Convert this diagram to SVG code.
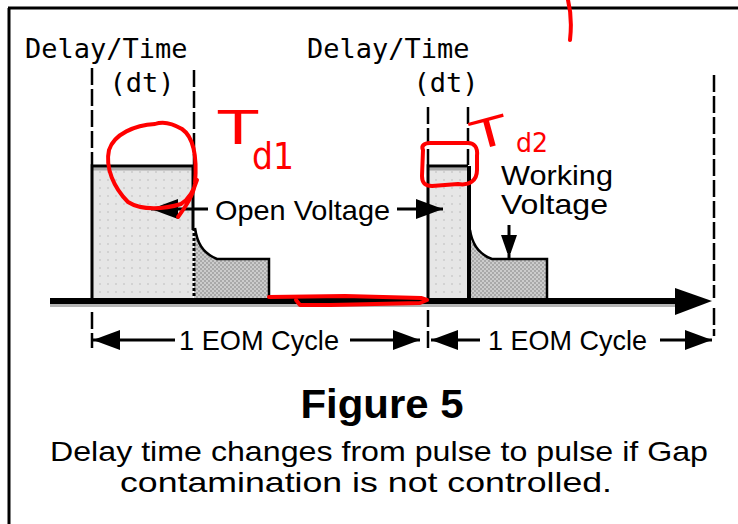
<svg xmlns="http://www.w3.org/2000/svg" width="738" height="524" viewBox="0 0 738 524">
<defs>
<style>
.mono{font-family:"DejaVu Sans Mono","Liberation Mono",monospace;font-size:27px;fill:#000}
.lbl{font-family:"Liberation Sans",Arial,sans-serif;font-size:28px;fill:#000}
.title{font-family:"Liberation Sans",Arial,sans-serif;font-size:41px;font-weight:bold;fill:#000}
.cap{font-family:"Liberation Sans",Arial,sans-serif;font-size:28px;fill:#000}
.dash{stroke:#000;stroke-width:2.5;stroke-dasharray:17,4;fill:none}
.arr{stroke:#000;stroke-width:3;fill:none}
.edge{stroke:#000;fill:none}
.red{stroke:#ff0000;stroke-width:4;fill:none;stroke-linecap:round;stroke-linejoin:round}
.hand{font-family:"DejaVu Sans",sans-serif;fill:#ff0000}
</style>
<pattern id="dots" width="8" height="8" patternUnits="userSpaceOnUse"><rect width="8" height="8" fill="#e6e6e6"/><rect x="3" y="3" width="2" height="2" fill="#d2d2d2"/></pattern>
<pattern id="checker" width="4" height="4" patternUnits="userSpaceOnUse"><rect width="4" height="4" fill="#cccccc"/><rect width="2" height="2" fill="#a9a9a9"/><rect x="2" y="2" width="2" height="2" fill="#a9a9a9"/></pattern>
<marker id="ah" markerUnits="userSpaceOnUse" markerWidth="28" markerHeight="22" refX="27" refY="11" orient="auto"><path d="M0,1 L27,11 L0,21 z" fill="#000"/></marker>
<marker id="ahs" markerUnits="userSpaceOnUse" markerWidth="18" markerHeight="24" refX="23" refY="8" orient="auto"><path d="M0,0 L23,8 L0,16 z" fill="#000"/></marker>
</defs>
<rect width="738" height="524" fill="#fff"/>
<g id="frame">
<line x1="9" y1="8" x2="9" y2="524" stroke="#000" stroke-width="3"/>
<line x1="8" y1="8" x2="738" y2="8" stroke="#000" stroke-width="3"/>
</g>
<g id="pulse1">
<rect x="92" y="166" width="101" height="134" fill="url(#dots)"/>
<path d="M194,228 C197,242 202,253 217,259 L269,259 L269,300 L194,300 z" fill="url(#checker)"/>
<line x1="92" y1="169" x2="193" y2="169" stroke="#aaa" stroke-width="3"/>
<path class="edge" stroke-width="3" d="M92,300 L92,166 L193,166 L193,230"/>
<line x1="194" y1="228" x2="194" y2="300" stroke="#000" stroke-width="3" stroke-dasharray="3,2"/>
<path class="edge" stroke-width="2.5" d="M195,228 C197,242 202,253 217,259 L269,259 L269,300"/>
</g>
<g id="pulse2">
<rect x="428" y="166" width="41" height="134" fill="url(#dots)"/>
<path d="M470,230 C472,244 478,254 492,259 L547,259 L547,300 L470,300 z" fill="url(#checker)"/>
<line x1="429" y1="169" x2="468" y2="169" stroke="#aaa" stroke-width="3"/>
<path class="edge" stroke-width="3" d="M428,300 L428,166 L468,166"/>
<line x1="469" y1="166" x2="469" y2="300" stroke="#000" stroke-width="4"/>
<path class="edge" stroke-width="2.5" d="M470,230 C472,244 478,254 492,259 L547,259 L547,300"/>
</g>
<g id="axis">
<rect x="50" y="304" width="630" height="3" fill="#b4b4b4"/>
<rect x="50" y="298" width="630" height="6" fill="#000"/>
<path d="M675,288 L712,301 L675,315 z" fill="#000"/>
</g>
<g id="guides">
<line class="dash" x1="92" y1="68" x2="92" y2="165"/>
<line class="dash" x1="194" y1="70" x2="194" y2="165"/>
<line class="dash" x1="428" y1="107" x2="428" y2="165"/>
<line class="dash" x1="468" y1="107" x2="468" y2="165"/>
<line class="dash" x1="714" y1="75" x2="714" y2="298"/>
<line class="dash" x1="92" y1="312" x2="92" y2="348"/>
<line class="dash" x1="428" y1="310" x2="428" y2="352"/>
<line class="dash" x1="714" y1="308" x2="714" y2="336"/>
</g>
<g id="labels">
<text class="mono" x="25" y="58">Delay/Time</text>
<text class="mono" x="142" y="92" text-anchor="middle">(dt)</text>
<text class="mono" x="307" y="58">Delay/Time</text>
<text class="mono" x="446" y="92" text-anchor="middle">(dt)</text>
<text id="open-voltage" class="lbl" x="215" y="220" textLength="175" lengthAdjust="spacingAndGlyphs">Open Voltage</text>
<text id="working" class="lbl" x="501" y="185" textLength="112" lengthAdjust="spacingAndGlyphs">Working</text>
<text id="voltage" class="lbl" x="501" y="214" textLength="107" lengthAdjust="spacingAndGlyphs">Voltage</text>
<text class="lbl" x="179" y="350" textLength="160" lengthAdjust="spacingAndGlyphs">1 EOM Cycle</text>
<text class="lbl" x="488" y="350" textLength="159" lengthAdjust="spacingAndGlyphs">1 EOM Cycle</text>
</g>
<g id="connectors">
<line class="arr" x1="208" y1="209" x2="151" y2="209" marker-end="url(#ah)"/>
<line class="arr" x1="397" y1="209" x2="443" y2="209" marker-end="url(#ah)"/>
<line class="arr" x1="509" y1="225" x2="509" y2="258" marker-end="url(#ahs)"/>
<line class="arr" x1="175" y1="340" x2="93" y2="340" marker-end="url(#ah)"/>
<line class="arr" x1="350" y1="340" x2="420" y2="340" marker-end="url(#ah)"/>
<line class="arr" x1="480" y1="340" x2="431" y2="340" marker-end="url(#ah)"/>
<line class="arr" x1="660" y1="340" x2="712" y2="340" marker-end="url(#ah)"/>
</g>
<g id="caption">
<text class="title" x="382" y="418" text-anchor="middle" textLength="163" lengthAdjust="spacingAndGlyphs">Figure 5</text>
<text class="cap" x="379" y="461" text-anchor="middle" textLength="658" lengthAdjust="spacingAndGlyphs">Delay time changes from pulse to pulse if Gap</text>
<text class="cap" x="366" y="492" text-anchor="middle" textLength="492" lengthAdjust="spacingAndGlyphs">contamination is not controlled.</text>
</g>
<g id="annotations">
<path class="red" d="M568,0 C571,12 572,22 570,40"/>
<path class="red" d="M178,217 C186,206 193,196 195,184 C197,160 195,138 182,129 C172,123 163,121 155,124 C135,125 114,134 109,150 C105,168 114,188 128,202 C142,211 165,209 181,204 C189,199 194,190 197,180"/>
<path class="red" d="M423,150 C421,146 424,143 430,143 L468,143 C474,143 478,147 477,156 L477,170 C477,180 470,186 458,184 L432,186 C425,186 422,183 422,176 z"/>
<path class="red" d="M269,297 L345,296 L421,298 L427,300 L420,303 L330,305 L300,305 L296,300"/>
<text class="hand" x="218" y="144" font-size="46" textLength="40" lengthAdjust="spacingAndGlyphs">T</text>
<text class="hand" x="252" y="169" font-size="38" textLength="42" lengthAdjust="spacingAndGlyphs">d1</text>
<text class="hand" x="470" y="147" font-size="40" textLength="36" lengthAdjust="spacingAndGlyphs" transform="rotate(-15 488 128)">T</text>
<text class="hand" x="516" y="152" font-size="26" textLength="32" lengthAdjust="spacingAndGlyphs">d2</text>
</g>
</svg>
